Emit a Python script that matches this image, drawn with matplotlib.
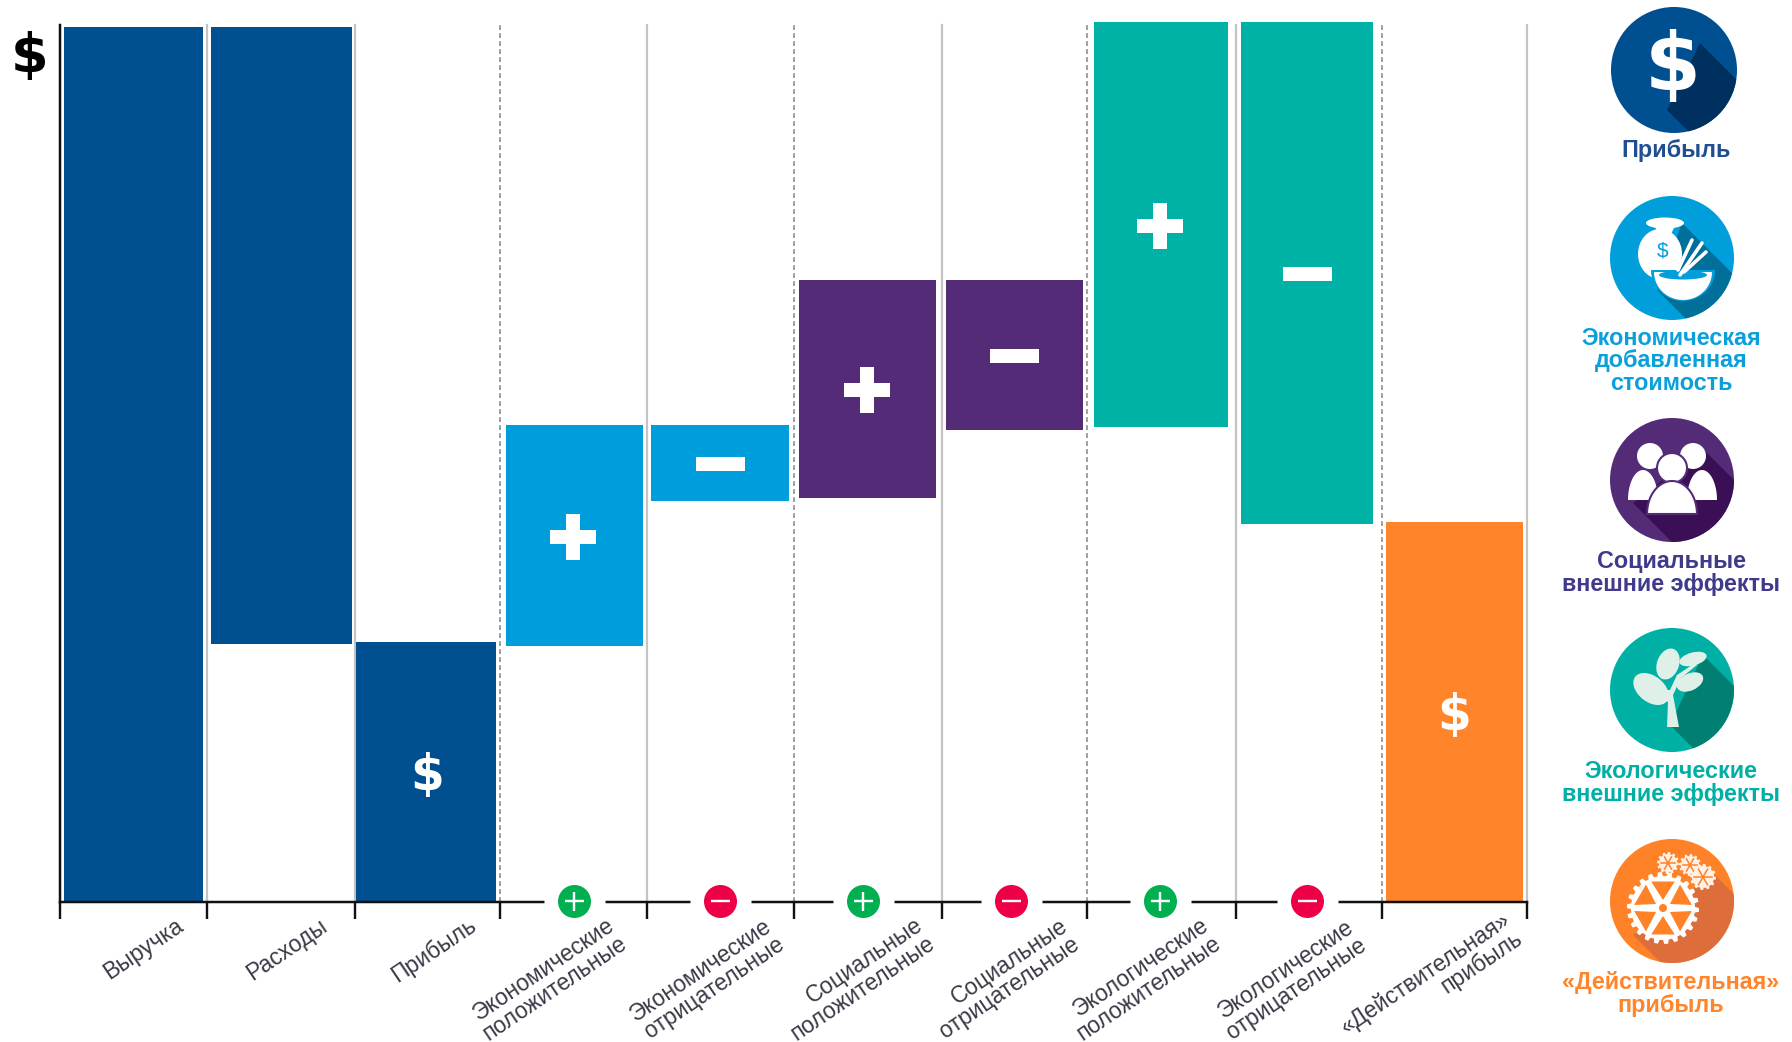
import numpy as np
import matplotlib
matplotlib.use("Agg")
import matplotlib.pyplot as plt
from matplotlib.patches import Circle, Ellipse, Polygon
from matplotlib.transforms import ScaledTranslation

plt.rcParams['font.family'] = ['Liberation Sans', 'DejaVu Sans']

# ---- data (revenue = 100) ----
categories = ["Выручка", "Расходы", "Прибыль",
              "Экономические\nположительные", "Экономические\nотрицательные",
              "Социальные\nположительные", "Социальные\nотрицательные",
              "Экологические\nположительные", "Экологические\nотрицательные",
              "«Действительная»\nприбыль"]
bar_low = [0, 29.5, 0, 29.3, 45.8, 46.2, 53.9, 54.3, 43.2, 0]
bar_high = [100, 100, 29.7, 54.5, 54.5, 71.1, 71.1, 100.5, 100.5, 43.4]
bar_sign = ["", "", "$", "+", "-", "+", "-", "+", "-", "$"]
legend_names = ["Прибыль", "Экономическая\nдобавленная\nстоимость",
                "Социальные\nвнешние эффекты", "Экологические\nвнешние эффекты",
                "«Действительная»\nприбыль"]

# ---- styles ----
NAVY, BLUE, PURPLE, TEAL, ORANGE = "#004f90", "#009ddc", "#532b77", "#00b2a5", "#ff842a"
bar_colors = [NAVY, NAVY, NAVY, BLUE, BLUE, PURPLE, PURPLE, TEAL, TEAL, ORANGE]
bar_widths = [0.95, 0.96, 0.955, 0.935, 0.94, 0.935, 0.935, 0.92, 0.895, 0.935]
bar_shift = [0, 0.008, -0.005, 0.006, 0, 0.006, 0.006, 0.005, 0, 0.006]
edge_pos = [0, 1.0, 2.01, 3.0, 4.0, 5.0, 6.01, 7.0, 8.015, 9.01, 10.0]
edge_styles = ["-", "-", "--", "-", "--", "-", "--", "-", "--", "-"]
badge_shift = [0, 0, 0, 0.005, 0, -0.025, -0.015, -0.005, 0, 0]
GREEN, RED = "#00b050", "#ee0047"
PX = 0.72   # points per pixel at dpi 100

W, H = 1792, 1042
fig = plt.figure(figsize=(W / 100, H / 100), dpi=100, facecolor="white")
ax = fig.add_axes([60 / W, (H - 902) / H, 1467 / W, 877 / H])
ax.set_xlim(0, 10)
ax.set_ylim(0, 100.2)
ax.set_facecolor("none")

centres = np.arange(len(categories)) + 0.5
for pos, style in zip(edge_pos[1:], edge_styles):
    ax.plot([pos, pos], [0, 100.2], ls=style, lw=2.2 * PX if style == "-" else 1.6 * PX,
            color="#c4c4c4" if style == "-" else "#8a8a8a", zorder=1, clip_on=False,
            dashes=(3, 2) if style == "--" else (None, None))

ax.bar(centres + np.array(bar_shift), np.array(bar_high) - np.array(bar_low), bottom=bar_low,
       width=bar_widths, color=bar_colors, zorder=2, clip_on=False)

# symbols in the middle of bars
for x, lo, hi, s in zip(centres, bar_low, bar_high, bar_sign):
    mid = (lo + hi) / 2
    if s == "+":
        ax.plot(x, mid - 0.2, marker="+", ms=46 * PX, mew=14 * PX, color="white", zorder=4, clip_on=False)
    elif s == "-":
        ax.plot(x, mid - 0.1, marker="_", ms=49 * PX, mew=14 * PX, color="white", zorder=4, clip_on=False)
    elif s == "$":
        ax.text(x, mid - 0.45, "$", color="white", fontsize=35, fontweight="bold",
                family=["DejaVu Sans"], ha="center", va="center", zorder=4)

# axes
for side in ("top", "right"):
    ax.spines[side].set_visible(False)
for side in ("left", "bottom"):
    ax.spines[side].set_linewidth(2.5 * PX)
    ax.spines[side].set_color("#111111")
ax.set_yticks([])
ax.set_xticks(edge_pos)
ax.set_xticklabels([])
ax.tick_params(axis="x", which="major", length=17 * PX, width=2.4 * PX, color="#111111")
ax.set_xticks(centres, minor=True)
ax.set_xticklabels(categories, minor=True, rotation=34, ha="center", va="center",
                   rotation_mode="anchor", fontsize=16.5, color="#3a3a48", linespacing=0.93,
                   multialignment="right")
ax.tick_params(axis="x", which="minor", length=0, pad=55)
dx_px = [10, 7, 7, -25, -13, -10, -10, -18, -17, -22]
dy_px = [29, 29, 28, -1, -1, -1, 0, -1, -1, -5]
for lab, dx, dy in zip(ax.get_xticklabels(minor=True), dx_px, dy_px):
    lab.set_transform(lab.get_transform() +
                      ScaledTranslation(dx / 100, dy / 100, fig.dpi_scale_trans))

# +/- badges on the baseline
for x, s, d in zip(centres, bar_sign, badge_shift):
    if s in ("+", "-"):
        ax.plot(x + d, 0, marker="_", ms=61 * PX, mew=7 * PX, color="white", zorder=5, clip_on=False)
        ax.plot(x + d, 0.17, marker="o", ms=33 * PX, mew=0, color=GREEN if s == "+" else RED,
                zorder=6, clip_on=False)
        ax.plot(x + d, 0.17, marker="+" if s == "+" else "_", ms=19 * PX, mew=2.4 * PX, color="white",
                zorder=7, clip_on=False)

# ---- overlay in pixel coordinates: icons and captions ----
ov = fig.add_axes([0, 0, 1, 1], facecolor="none")
ov.set_xlim(0, W)
ov.set_ylim(H, 0)
ov.axis("off")

ov.text(30, 57, "$", fontsize=39, fontweight="bold", color="black", ha="center", va="center",
        family=["DejaVu Sans"])


def icon(cx, cy, r, col, dark, p1, p2):
    ov.add_patch(Circle((cx, cy), r, fc=col, ec="none", zorder=2))
    band = Polygon([p1, (p1[0] + 120, p1[1] + 120), (p2[0] + 120, p2[1] + 120), p2],
                   fc=dark, ec="none", zorder=3)
    ov.add_patch(band)
    band.set_clip_path(Circle((cx, cy), r, transform=ov.transData))


def half_ellipse(cx, base, a, b, up=True, fc="white", z=4, ec="none", lw=0):
    t = np.linspace(0, np.pi, 40)
    s = -1 if up else 1
    ov.add_patch(Polygon(np.c_[cx + a * np.cos(t), base + s * b * np.sin(t)], closed=True,
                         fc=fc, ec=ec, lw=lw, zorder=z))


def gear(cx, cy, ro, ri, teeth, col, z=5):
    n = teeth * 8
    t = np.linspace(0, 2 * np.pi, n, endpoint=False)
    rad = np.where((np.arange(n) % 8) < 4, ro, ri)
    ov.add_patch(Polygon(np.c_[cx + rad * np.cos(t), cy + rad * np.sin(t)], fc=col, ec="none", zorder=z))


# 1 – profit
icon(1674, 70, 63, NAVY, "#00305f", (1700, 43), (1667, 110))
ov.text(1673, 68, "$", color="white", fontsize=58, fontweight="bold", family=["DejaVu Sans"],
        ha="center", va="center", zorder=5)

# 2 – economic value added
icon(1672, 258, 62, "#009fdb", "#006f9a", (1682, 223), (1657, 290))
ov.add_patch(Ellipse((1660, 254), 44, 50, fc="white", zorder=4))
ov.add_patch(Ellipse((1665, 223), 38, 11, fc="white", zorder=4))
ov.add_patch(Polygon([(1655, 226), (1675, 226), (1670, 236), (1658, 236)], fc="white", ec="none", zorder=4))
ov.text(1663, 251, "$", color="#009fdb", fontsize=15, ha="center", va="center", zorder=5)
half_ellipse(1683, 270, 32, 31, up=False, fc="#009fdb", z=5)
half_ellipse(1683, 272, 29, 28, up=False, fc="white", z=6)
ov.add_patch(Ellipse((1683, 275), 48, 9, fc="#009fdb", zorder=7))
for (x0, y0, x1, y1) in [(1680, 275, 1702, 243), (1684, 272, 1706, 252), (1678, 270, 1692, 240)]:
    ov.plot([x0, x1], [y0, y1], color="white", lw=2.6, zorder=8, solid_capstyle="round")

# 3 – social
icon(1672, 480, 62, PURPLE, "#3a0f55", (1703, 449), (1633, 503))
for cx, cy in [(1650, 456), (1693, 456)]:
    ov.add_patch(Circle((cx, cy), 13, fc="white", zorder=4))
half_ellipse(1643, 500, 15, 30, fc="white")
half_ellipse(1702, 500, 15, 30, fc="white")
ov.add_patch(Circle((1672, 468), 15, fc="white", ec=PURPLE, lw=1.5, zorder=5))
half_ellipse(1672, 514, 25, 33, fc="white", ec=PURPLE, lw=1.5, z=5)

# 4 – ecological
LEAF = "#dff0e8"
icon(1672, 690, 62, "#00b0a5", "#007f72", (1703, 655), (1670, 725))
ov.add_patch(Polygon([(1667, 727), (1679, 727), (1673, 695), (1681, 678), (1697, 665), (1695, 663),
                      (1677, 675), (1670, 690), (1652, 690), (1650, 693), (1668, 702)],
                     fc=LEAF, ec="none", zorder=4))
ov.add_patch(Ellipse((1651, 689), 40, 26, angle=38, fc=LEAF, zorder=4))
ov.add_patch(Ellipse((1668, 664), 22, 32, angle=20, fc=LEAF, zorder=4))
ov.add_patch(Ellipse((1693, 659), 28, 13, angle=-15, fc=LEAF, zorder=4))
ov.add_patch(Ellipse((1690, 682), 28, 17, angle=-25, fc=LEAF, zorder=4))

# 5 – true profit
DOR = "#ff8228"
icon(1672, 901, 62, DOR, "#de6d3c", (1713, 873), (1633, 935))
gear(1663, 908, 36, 32, 22, "white")
for a in np.arange(6) * 60 + 30:
    t = np.radians([a - 24, a + 24])
    t0 = np.radians(a)
    ov.add_patch(Polygon([(1663 + 8 * np.cos(t0), 908 + 8 * np.sin(t0)),
                          (1663 + 29 * np.cos(t[0]), 908 + 29 * np.sin(t[0])),
                          (1663 + 29 * np.cos(t[1]), 908 + 29 * np.sin(t[1]))],
                         fc=DOR, ec="none", zorder=6))
ov.add_patch(Circle((1663, 908), 4, fc=DOR, zorder=6))
for cx, cy, r in [(1668, 863, 11), (1690, 865, 11), (1703, 877, 13)]:
    gear(cx, cy, r, r - 2, 12, "#fff1e6")
    for a in np.arange(3) * 60:
        t = np.radians(a)
        ov.plot([cx - (r - 4) * np.cos(t), cx + (r - 4) * np.cos(t)],
                [cy - (r - 4) * np.sin(t), cy + (r - 4) * np.sin(t)],
                color=DOR, lw=1.1, zorder=6)

# captions
caption_y = [150, 361, 573, 783, 994]
caption_x = [1676, 1671, 1671, 1671, 1671]
caption_col = ["#1f4f92", "#0aa0dc", "#3f3a8c", "#00b0a5", "#ff842a"]
for name, x, y, c in zip(legend_names, caption_x, caption_y, caption_col):
    ov.text(x, y, name, color=c, fontsize=16.8, fontweight="bold", ha="center", va="center",
            linespacing=0.95, zorder=5)

fig.savefig("out.png", dpi=100, facecolor="white")
